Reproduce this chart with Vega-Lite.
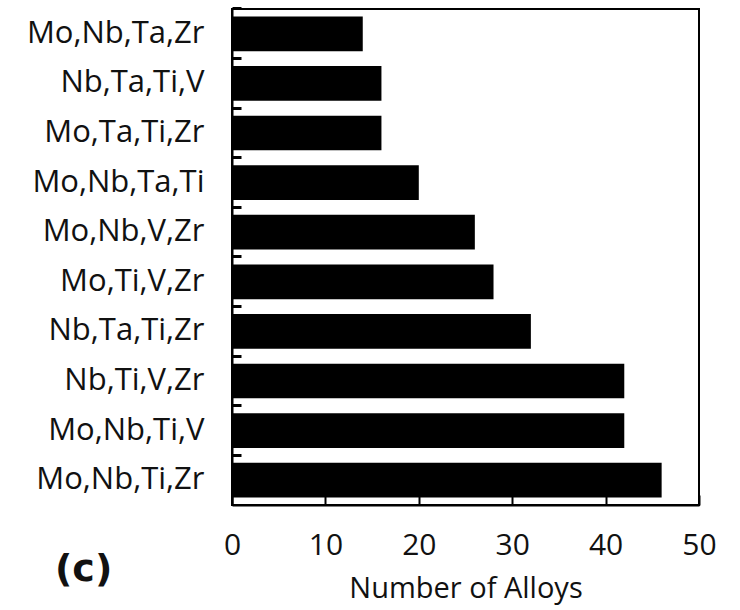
{
  "$schema": "https://vega.github.io/schema/vega-lite/v6.json",
  "autosize": "none",
  "width": 467,
  "height": 496,
  "padding": {"left": 232, "top": 9, "right": 41, "bottom": 105},
  "background": "white",
  "config": {
    "view": {"stroke": "black", "strokeWidth": 2},
    "font": "Open Sans",
    "axis": {"labelColor": "#111111", "titleColor": "#111111", "domain": true, "domainColor": "black", "domainWidth": 2, "grid": false}
  },
  "title": {
    "text": "(c)",
    "orient": "bottom",
    "anchor": "start",
    "frame": "group",
    "fontSize": 38,
    "fontWeight": "bold",
    "font": "DejaVu Sans",
    "color": "#111111",
    "dx": -177,
    "dy": -56
  },
  "data": {
    "values": [
      {"alloy": "Mo,Nb,Ta,Zr", "count": 14},
      {"alloy": "Nb,Ta,Ti,V", "count": 16},
      {"alloy": "Mo,Ta,Ti,Zr", "count": 16},
      {"alloy": "Mo,Nb,Ta,Ti", "count": 20},
      {"alloy": "Mo,Nb,V,Zr", "count": 26},
      {"alloy": "Mo,Ti,V,Zr", "count": 28},
      {"alloy": "Nb,Ta,Ti,Zr", "count": 32},
      {"alloy": "Nb,Ti,V,Zr", "count": 42},
      {"alloy": "Mo,Nb,Ti,V", "count": 42},
      {"alloy": "Mo,Nb,Ti,Zr", "count": 46}
    ]
  },
  "mark": {"type": "bar", "color": "black"},
  "encoding": {
    "y": {
      "field": "alloy",
      "type": "nominal",
      "sort": null,
      "scale": {"paddingInner": 0.3, "paddingOuter": 0.15},
      "axis": {
        "title": null,
        "labelFontSize": 31,
        "labelPadding": 37,
        "tickSize": -9,
        "tickWidth": 3,
        "tickColor": "black",
        "bandPosition": -0.2143
      }
    },
    "x": {
      "field": "count",
      "type": "quantitative",
      "scale": {"domain": [0, 50], "nice": false},
      "axis": {
        "title": "Number of Alloys",
        "values": [0, 10, 20, 30, 40, 50],
        "labelFontSize": 30,
        "titleFontSize": 29,
        "titleFontWeight": "normal",
        "labelPadding": 35,
        "titlePadding": 14,
        "tickSize": -10,
        "tickWidth": 2,
        "tickColor": "black",
        "labelFlush": false
      }
    }
  }
}
